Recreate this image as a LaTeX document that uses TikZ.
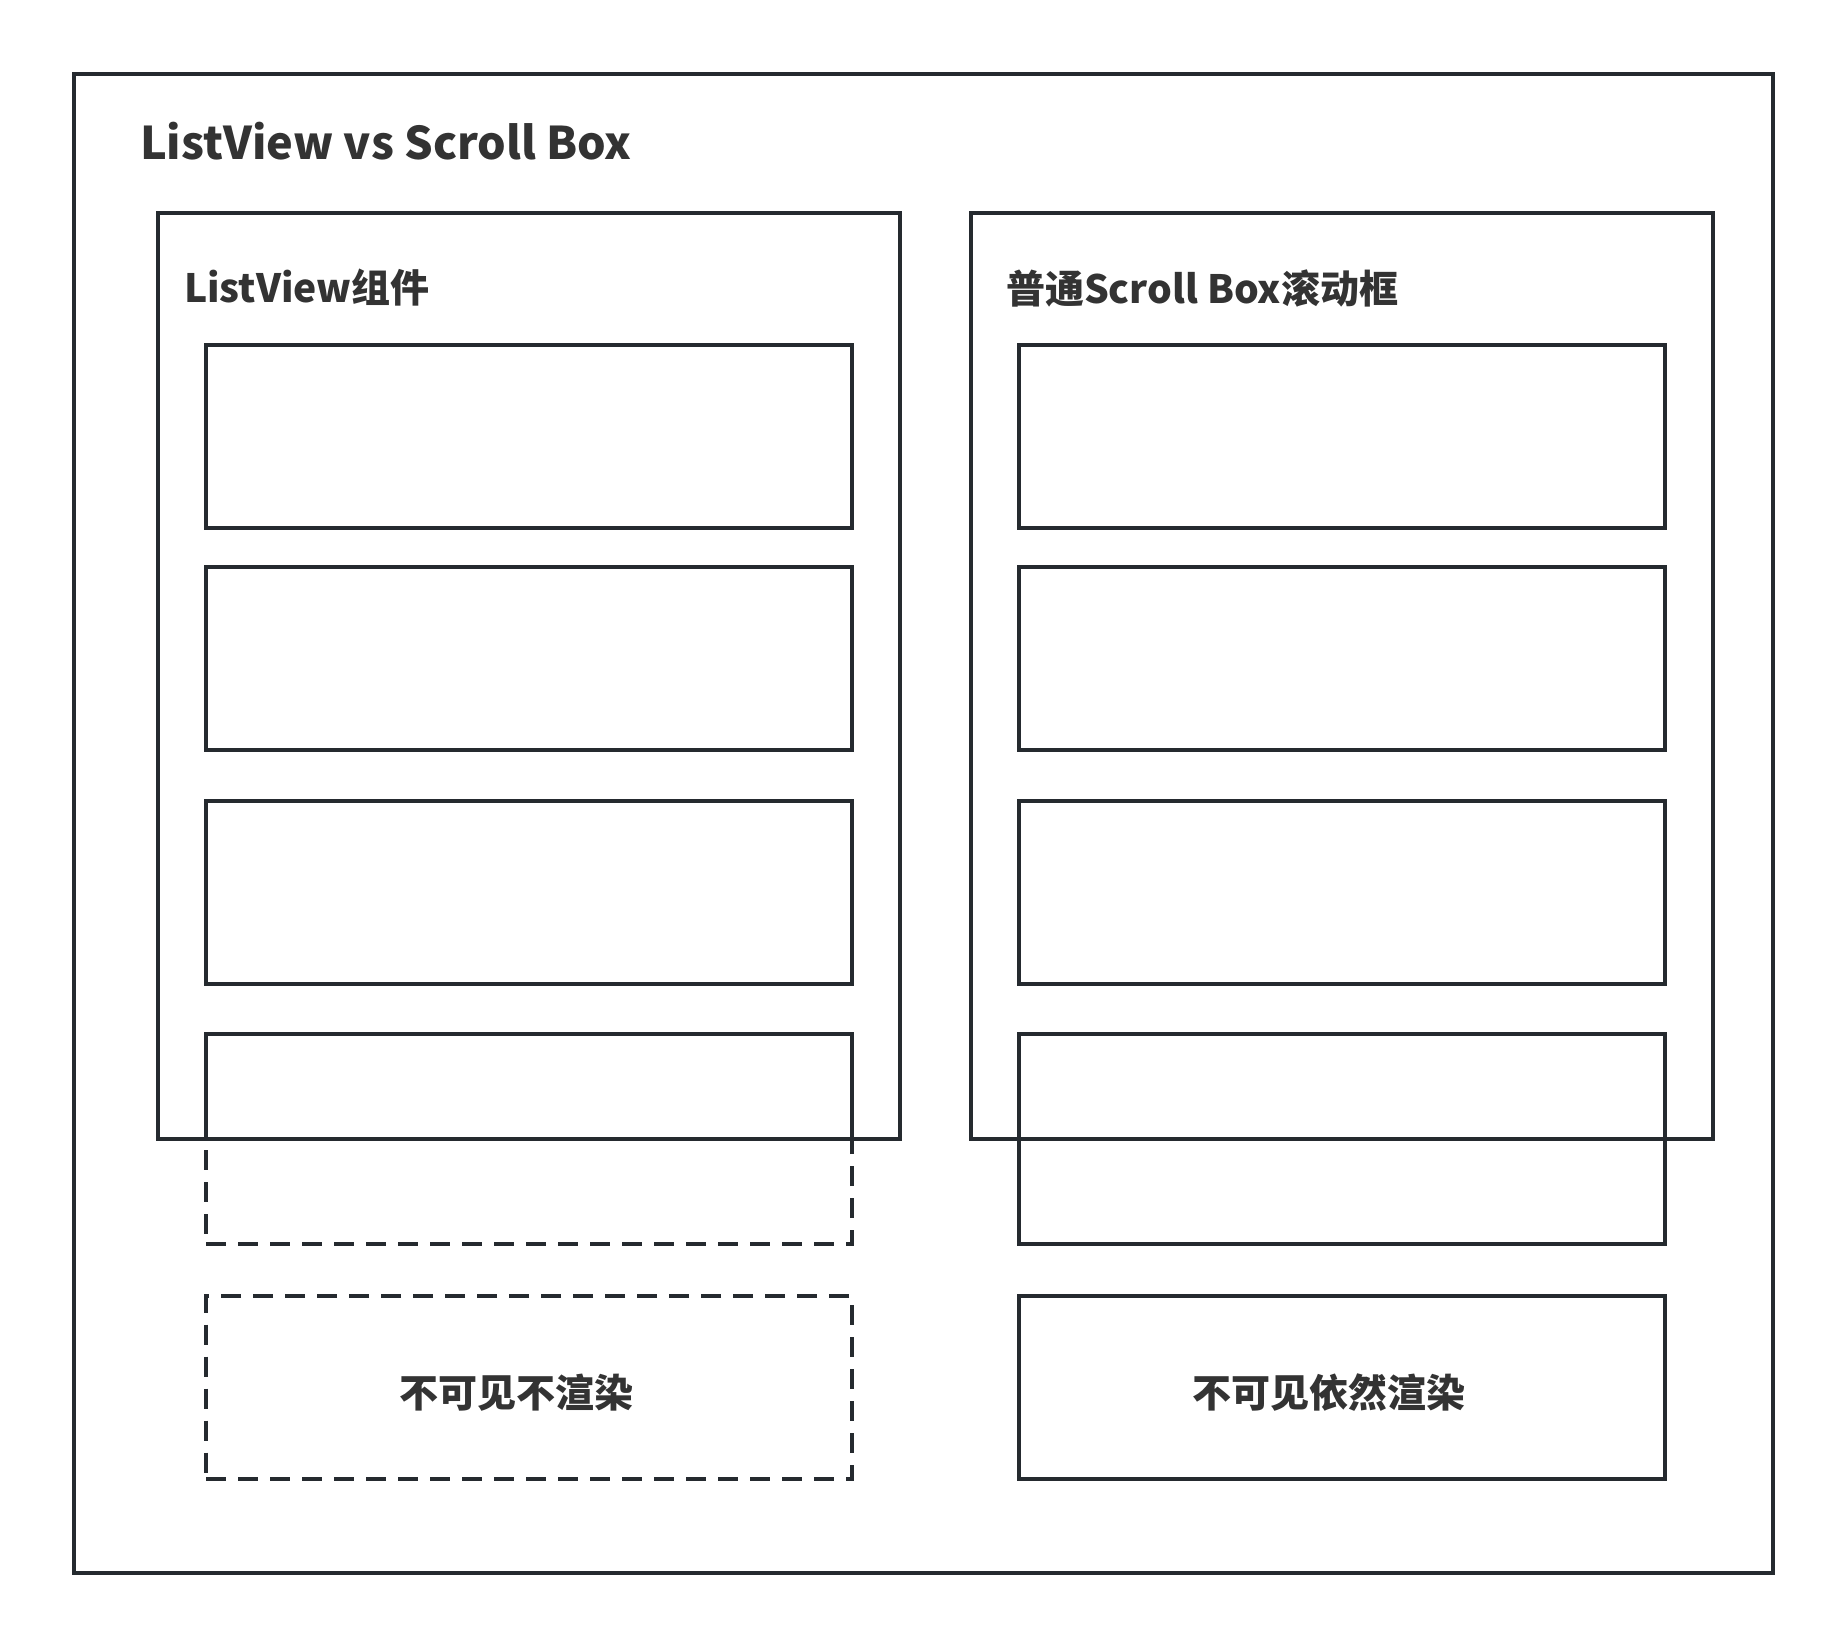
\documentclass[tikz,border=0pt]{standalone}
\usepackage{fontspec}
\setmainfont{Noto Sans CJK SC}
\usetikzlibrary{positioning}
\definecolor{edge}{HTML}{252A2F}
\definecolor{ink}{HTML}{333333}
\begin{document}
\begin{tikzpicture}[x=1pt,y=-1pt,line width=4pt,
        every node/.style={draw=edge,rectangle,inner sep=0pt},
        frame/.style={minimum width=742pt,minimum height=926pt},
        item/.style={minimum width=646pt,minimum height=183pt},
        half/.style={minimum width=646pt,minimum height=105pt},
        ghost/.style={dash pattern=on 20pt off 12pt},
        caption/.style={draw=none,text=ink,font=\bfseries\fontsize{39}{46}\selectfont}]
    \useasboundingbox (0,0) rectangle (1847,1647);
    \node[minimum width=1699pt,minimum height=1499pt] (outer) at (923.5,823.5) {};
    \node[caption,anchor=west,font=\bfseries\fontsize{45}{54}\selectfont] (title) at (138,141) {ListView vs Scroll Box};
    \node[frame] (listview) at (529,676) {};
    \node[frame] (scrollbox) at (1342,676) {};
    \node[caption,anchor=west] (listlabel) at (182,288) {ListView组件};
    \node[caption,anchor=west] (scrolllabel) at (1004,288) {普通Scroll Box滚动框};
    \node[item] (l1) at (529,436.5) {};
    \node[item] (l2) at (529,658) {};
    \node[item] (l3) at (529,892.5) {};
    \node[half] (l4) at (529,1086.5) {};
    \node[half,ghost] (l4b) at (529,1191.5) {};
    \node[item,ghost,caption,draw=edge] (l5) at (529,1387) {\raisebox{-20.5pt}[0pt][0pt]{\hspace*{-26pt}不可见不渲染}};
    \node[item] (r1) at (1342,436.5) {};
    \node[item] (r2) at (1342,658) {};
    \node[item] (r3) at (1342,892.5) {};
    \node[minimum width=646pt,minimum height=210pt] (r4) at (1342,1139) {};
    \node[item,caption,draw=edge] (r5) at (1342,1387) {\raisebox{-20.5pt}[0pt][0pt]{\hspace*{-26pt}不可见依然渲染}};
\end{tikzpicture}
\end{document}
